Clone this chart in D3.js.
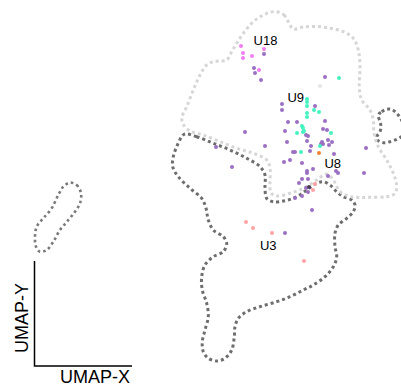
<!DOCTYPE html>
<html>
<head>
<meta charset="utf-8">
<script src="https://cdn.jsdelivr.net/npm/d3@7"></script>
<style>
html,body{margin:0;padding:0;background:#fff;}
svg{display:block;font-family:"Liberation Sans",Arial,sans-serif;}
</style>
</head>
<body>
<svg id="chart" width="401" height="388"></svg>
<script>
// ---- data (UMAP units) ----
const clusterNames = ["U18","U9","U8","U3"];
const labelX = [26.55, 29.57, 33.27, 26.83];
const labelY = [34.3, 28.63, 21.97, 13.8];

const pinkPts = [[24.1,34.2],[24.3,33.5],[24.3,33.0],[25.2,33.2],[26.4,33.9],[25.9,31.8]];
const purplePts = [[26.4,33.4],[25.4,32.0],[25.5,31.5],[26.1,30.8],[32.5,31.1],[28.2,28.4],[28.2,27.8],[31.5,28.2],
 [28.8,26.6],[29.7,26.6],[32.5,26.7],[28.5,25.7],[32.3,25.9],[32.7,25.8],[30.6,25.3],[30.8,25.2],[24.5,25.6],
 [28.7,24.6],[30.7,24.7],[31.1,24.2],[32.2,24.6],[32.3,24.4],[32.1,24.4],[32.8,24.8],[33.2,24.6],[32.9,24.3],
 [26.5,24.2],[29.5,23.6],[29.3,23.6],[31.0,23.7],[33.4,23.4],[36.6,24.0],[21.6,24.1],[23.2,22.1],[28.4,22.6],
 [29.0,22.8],[30.2,22.5],[31.3,21.9],[30.7,21.7],[30.7,21.5],[33.6,21.7],[33.8,21.5],[36.4,21.5],[30.8,20.9],
 [29.9,20.5],[30.2,20.9],[32.8,21.2],[30.6,20.0],[30.8,19.6],[29.5,19.0],[30.2,19.2],[31.2,17.8],[28.5,15.5]];
const cyanPts = [[33.9,31.0],[30.7,28.9],[30.7,28.6],[30.7,28.2],[31.4,27.8],[31.9,27.6],[30.7,27.5],[30.7,27.1],
 [30.2,26.2],[30.3,26.0],[30.4,25.7],[30.3,25.6],[29.7,25.5],[33.1,25.5],[32.0,24.2],[30.1,23.6]];
const orangePts = [[31.9,23.5]];
const salmonPts = [[31.5,20.4],[31.3,19.8],[24.6,16.6],[25.3,16.0],[27.2,15.5],[30.4,12.7]];
const greyPts = [[32.0,30.2]];
const darkPts = [[30.9,20.1]];

const lightContour = [[27.67,37.63],[28.4,37.3],[28.83,36.63],[29.33,35.9],[30.33,36.1],[31.67,36.15],[33.0,35.97],
 [34.33,35.63],[35.33,34.97],[35.83,33.8],[36.0,32.13],[35.93,30.13],[36.17,28.8],[37.0,27.8],[37.33,26.8],
 [37.4,25.47],[37.83,24.13],[38.67,22.8],[39.33,21.47],[39.65,20.3],[39.5,19.45],[38.67,19.13],[37.0,19.07],
 [36.0,19.05],[35.0,19.15],[34.0,19.63],[33.33,20.8],[32.67,21.4],[31.67,20.8],[30.33,19.97],[29.0,19.47],
 [27.7,19.2],[27.1,19.5],[27.0,20.5],[27.0,22.0],[26.67,22.8],[25.33,23.47],[23.67,23.97],[22.0,24.63],
 [20.33,25.3],[19.0,25.7],[18.3,26.4],[18.2,27.1],[18.67,28.13],[19.33,29.8],[20.0,31.3],[20.67,32.3],
 [21.33,32.63],[22.0,32.7],[22.67,32.8],[23.17,33.63],[23.67,34.47],[24.33,35.47],[25.33,36.63],[26.33,37.3],[27.0,37.57]];
const darkContour = [[18.5,25.4],[19.67,25.13],[21.33,24.47],[23.0,23.8],[24.67,22.97],[26.0,22.13],[26.5,21.3],
 [26.5,20.13],[26.67,18.97],[27.33,18.63],[28.5,18.73],[29.67,19.13],[30.67,19.8],[31.67,20.47],[32.33,20.63],
 [33.0,20.3],[33.67,19.63],[34.33,19.13],[35.17,18.8],[35.5,18.3],[35.33,17.63],[34.67,16.97],[33.83,16.3],
 [33.5,15.47],[33.5,14.13],[33.67,13.13],[33.33,12.13],[32.5,11.13],[31.33,10.3],[30.33,9.8],[29.0,9.13],
 [27.67,8.63],[26.0,8.13],[24.67,7.63],[23.83,6.97],[23.5,6.13],[23.43,5.13],[23.17,3.8],[22.5,2.97],
 [21.67,2.7],[20.83,2.97],[20.33,3.63],[20.23,4.63],[20.5,5.8],[20.83,7.13],[20.67,8.47],[20.23,9.8],
 [20.17,11.13],[20.5,12.3],[21.33,13.13],[22.33,13.63],[22.67,14.47],[22.33,15.13],[21.33,15.8],[20.83,16.8],
 [20.6,17.97],[20.17,18.97],[19.0,19.97],[17.83,21.13],[17.27,22.13],[17.33,23.13],[17.67,24.13],[18.17,25.13]];
const rightLoop = [[37.83,27.3],[38.17,27.63],[38.67,27.87],[39.17,27.87],[39.67,27.47],[40.1,26.9],[40.4,26.0],
 [40.1,25.13],[39.67,24.87],[39.0,24.63],[38.33,24.53],[37.73,24.8],[37.67,25.13],[38.0,25.63],[38.1,26.13],[38.0,26.63]];
const leftLoop = [[7.0,20.53],[7.67,20.3],[8.1,19.47],[8.0,18.47],[7.5,17.63],[6.83,16.8],[6.0,15.8],[5.33,14.63],
 [4.67,13.8],[4.0,13.63],[3.6,14.13],[3.5,15.13],[3.67,16.13],[4.33,16.97],[5.17,17.97],[5.83,19.3],[6.33,20.13]];

const axisTitles = ["UMAP-X","UMAP-Y"];

// ---- scales ----
const W = 401, H = 388;
const x = d3.scaleLinear().domain([0, 40.1]).range([0, W]);
const y = d3.scaleLinear().domain([0, 38.8]).range([H, 0]);

const svg = d3.select("#chart");

const line = d3.line().x(d => x(d[0])).y(d => y(d[1])).curve(d3.curveCatmullRomClosed.alpha(0.5));

const contours = [
  {pts: darkContour, color: "#6e6e6e", w: 3, dash: "3,3"},
  {pts: rightLoop, color: "#6e6e6e", w: 3, dash: "3,3"},
  {pts: leftLoop, color: "#7a7a7a", w: 2.6, dash: "2.6,3"},
  {pts: lightContour, color: "#d6d6d6", w: 3, dash: "3,3"}
];
svg.append("g").selectAll("path").data(contours).join("path")
  .attr("d", d => line(d.pts))
  .attr("fill", "none")
  .attr("stroke", d => d.color)
  .attr("stroke-width", d => d.w)
  .attr("stroke-dasharray", d => d.dash);

const groups = [
  {pts: greyPts, color: "#e6e6e6"},
  {pts: purplePts, color: "#9b6fc2"},
  {pts: pinkPts, color: "#f07ef0"},
  {pts: cyanPts, color: "#45f2c0"},
  {pts: salmonPts, color: "#ffa3a3"},
  {pts: orangePts, color: "#ec8133"},
  {pts: darkPts, color: "#4a3a55"}
];
const gp = svg.append("g");
groups.forEach(g => {
  gp.append("g").selectAll("circle").data(g.pts).join("circle")
    .attr("cx", d => x(d[0])).attr("cy", d => y(d[1]))
    .attr("r", 2).attr("fill", g.color);
});

// cluster labels
svg.append("g").selectAll("text").data(clusterNames).join("text")
  .attr("x", (d,i) => x(labelX[i]))
  .attr("y", (d,i) => y(labelY[i]))
  .attr("text-anchor", "middle")
  .attr("font-size", 13)
  .attr("fill", "#000")
  .text(d => d);

// axis guide
const ax = svg.append("g");
ax.append("path").attr("d", "M34.5,261V366H132")
  .attr("fill", "none").attr("stroke", "#000").attr("stroke-width", 1.5);
ax.append("text").attr("x", 95).attr("y", 383).attr("text-anchor", "middle")
  .attr("font-size", 18).text(axisTitles[0]);
ax.append("text").attr("transform", "translate(28,318) rotate(-90)").attr("text-anchor", "middle")
  .attr("font-size", 18).text(axisTitles[1]);
</script>
</body>
</html>
